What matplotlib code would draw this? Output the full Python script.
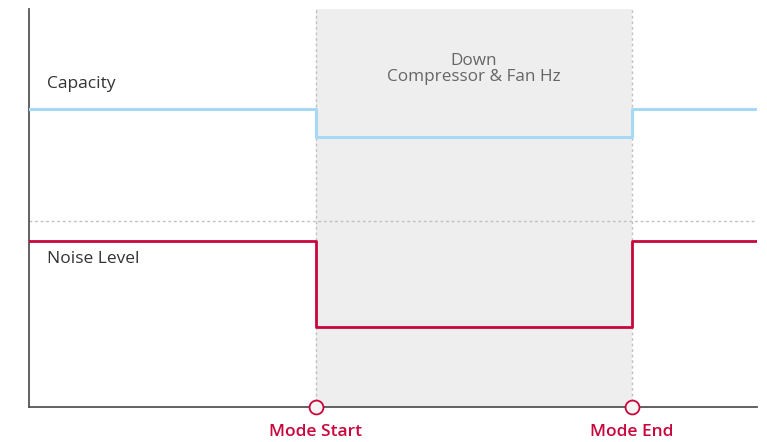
import matplotlib
matplotlib.use("Agg")
import matplotlib.pyplot as plt

# Data (time in arbitrary units, level in arbitrary units)
time_points = [0.0, 3.94, 8.28, 10.0]
capacity_levels = [7.49, 6.78, 7.49, 7.49]
noise_levels = [4.17, 2.01, 4.17, 4.17]
mode_start = 3.94
mode_end = 8.28
divider_level = 4.67
event_labels = ["Mode Start", "Mode End"]
series_labels = ["Capacity", "Noise Level"]
region_label = "Down\nCompressor & Fan Hz"

RED = "#c8063c"
BLUE = "#a6daf4"
plt.rcParams['font.family'] = ['Open Sans', 'DejaVu Sans']

fig = plt.figure(figsize=(7.67, 4.42), dpi=100)
ax = fig.add_axes([29/767, 1 - 407/442, 728/767, 398/442])
ax.set_xlim(0, 10)
ax.set_ylim(0, 10)

ax.axvspan(mode_start, mode_end, color="#eeeeee", zorder=0, lw=0)
for xv in (mode_start, mode_end):
    ax.axvline(xv, color="#c0c0c0", lw=1, ls=(0, (2, 2)), zorder=1)
ax.axhline(divider_level, color="#c0c0c0", lw=1, ls=(0, (2, 2)), zorder=1)

ax.step(time_points, capacity_levels, where="post", color=BLUE, lw=2.2, zorder=3)
ax.step(time_points, noise_levels, where="post", color=RED, lw=2.0, zorder=3)

ax.text(0.25, 8.12, series_labels[0], fontsize=12.5, color="#333333", va="center", ha="left")
ax.text(0.25, 3.72, series_labels[1], fontsize=12.5, color="#333333", va="center", ha="left")
ax.text((mode_start + mode_end) / 2, 8.49, region_label, fontsize=12.3, color="#666666",
        ha="center", va="center", linespacing=0.95)

ax.plot([mode_start, mode_end], [0, 0], "o", ms=10, mfc="#f4f4f4", mec=RED, mew=1.3,
        clip_on=False, zorder=5)
for xv, lab in zip([mode_start, mode_end], event_labels):
    ax.text(xv, -0.63, lab, fontsize=12.5, color=RED, ha="center", va="center", fontweight="semibold")

for s in ("top", "right"):
    ax.spines[s].set_visible(False)
for s in ("left", "bottom"):
    ax.spines[s].set_color("#555555")
    ax.spines[s].set_linewidth(1.3)
ax.set_xticks([])
ax.set_yticks([])

fig.savefig("out.png", dpi=100)
